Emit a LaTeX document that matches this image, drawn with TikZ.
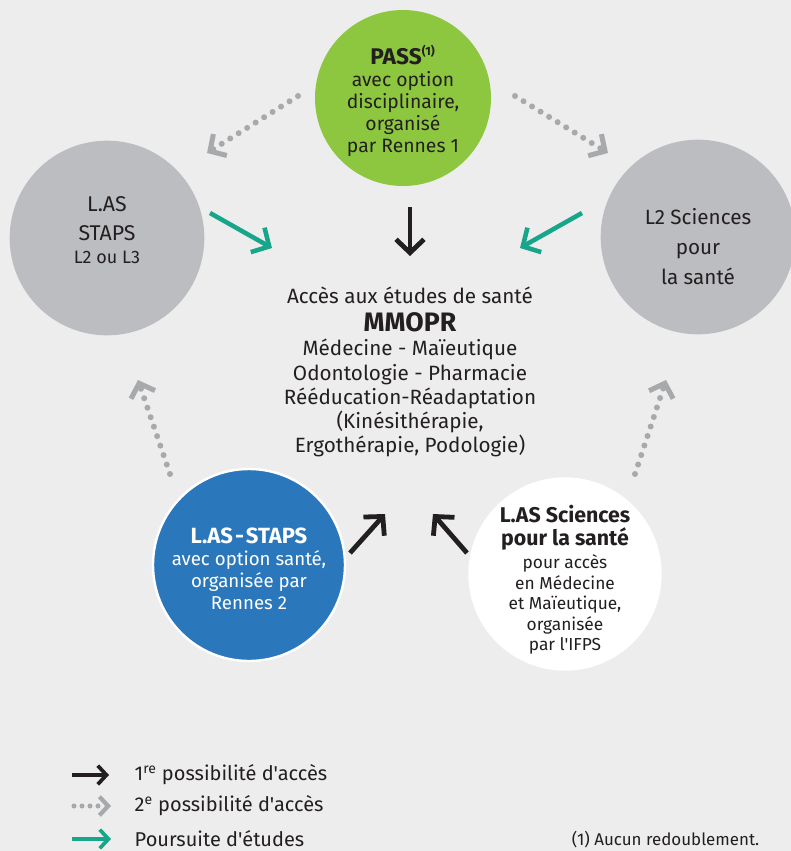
\documentclass[tikz,border=0pt]{standalone}
\usepackage{fontspec}
\setmainfont{Fira Sans}[Ligatures=TeXOff]
\usetikzlibrary{arrows.meta, positioning, calc}
\definecolor{bggray}{HTML}{EDEDED}
\definecolor{passgreen}{HTML}{8DC63F}
\definecolor{lasgray}{HTML}{BCBDC0}
\definecolor{stapsblue}{HTML}{2A77BB}
\definecolor{suitegreen}{HTML}{17A689}
\definecolor{dotgray}{HTML}{A7A9AC}
\definecolor{inkdark}{HTML}{231F20}

\tikzset{
  bubble/.style={circle, inner sep=0pt, minimum size=146pt},
  bubbletext/.style={align=center, inner sep=0pt, text=inkdark},
  firstacc/.style={draw=inkdark, line width=3.6pt, -{Straight Barb[length=10pt,width=21pt]}},
  secondacc/.style={draw=dotgray, line width=4.5pt, line cap=round, dash pattern=on 0pt off 7.5pt,
    -{Straight Barb[length=9pt,width=19pt,line width=3.8pt]}},
  suite/.style={draw=suitegreen, line width=3.4pt, -{Straight Barb[length=10pt,width=21pt]}},
  legtext/.style={anchor=west, text=inkdark, font=\fontsize{15}{17}\selectfont},
}

\begin{document}
\begin{tikzpicture}[x=0.75pt, y=-0.75pt]

% background and page size
\fill[bggray] (0,0) rectangle (791,851);
\useasboundingbox (0,0) rectangle (791,851);

% circles
\node[bubble, fill=passgreen, minimum size=132pt] (pass) at (403,98) {};
\node[bubble, fill=lasgray] (lasstaps) at (107,238) {};
\node[bubble, fill=lasgray] (l2sci) at (698,237) {};
\node[bubble, fill=stapsblue, draw=white, line width=1.8pt, minimum size=144pt] (lasblue) at (249,565) {};
\node[bubble, fill=white, minimum size=145pt] (lassci) at (565,574) {};

% circle texts
\node[bubbletext, font=\fontsize{14.5}{16.5}\selectfont] (passtxt) at (403,101)
  {{\fontsize{17}{19}\selectfont\bfseries PASS\textsuperscript{\fontsize{9}{9}\selectfont(1)}}\\
   avec option\\ disciplinaire,\\ organisé\\ par Rennes 1};
\node[bubbletext, font=\fontsize{16}{22}\selectfont] (lasstapstxt) at (107,230)
  {L.AS\\ STAPS\\[-5pt] {\fontsize{13.5}{15}\selectfont L2 ou L3}};
\node[bubbletext, font=\fontsize{15.5}{22.5}\selectfont] (l2scitxt) at (698,247)
  {L2 Sciences\\ pour\\ la santé};
\node[bubbletext, text=white, font=\fontsize{14}{16.5}\selectfont] (lasbluetxt) at (249,569)
  {{\fontsize{16.5}{19}\selectfont\bfseries L.AS\kern1.5pt-\kern1.5pt STAPS}\\
   avec option santé,\\ organisée par\\ Rennes 2};
\node[bubbletext, font=\fontsize{13}{15.4}\selectfont] (lasscitxt) at (565,580)
  {{\fontsize{16}{17}\selectfont\bfseries L.AS Sciences}\\[1.5pt]
   {\fontsize{16}{17}\selectfont\bfseries pour la santé}\\[2pt]
   pour accès\\ en Médecine\\ et Maïeutique,\\ organisée\\ par l'IFPS};

% centre
\node[align=center, text=inkdark, font=\fontsize{15.5}{18.2}\selectfont] (mmopr) at (410,372)
  {Accès aux études de santé\\[3pt]
   {\fontsize{20}{20}\selectfont\bfseries MMOPR}\\
   Médecine - Maïeutique\\ Odontologie - Pharmacie\\ Rééducation-Réadaptation\\
   (Kinésithérapie,\\ Ergothérapie, Podologie)};

% arrow ends
\coordinate (pd1) at (410,207);   \coordinate (pd2) at (410,256);
\coordinate (bl1) at (350,553);   \coordinate (bl2) at (385,514);
\coordinate (br1) at (467,553);   \coordinate (br2) at (433,514);
\coordinate (gl1) at (210,213);   \coordinate (gl2) at (272,248);
\coordinate (gr1) at (582,213);   \coordinate (gr2) at (520,248);
\coordinate (tl1) at (298,96);    \coordinate (tl2) at (207,153);
\coordinate (tr1) at (515,96);    \coordinate (tr2) at (608,153);
\coordinate (ll1) at (170,474);   \coordinate (ll2) at (138,380);
\coordinate (lr1) at (635,474);   \coordinate (lr2) at (666,380);

% 1re possibilite
\draw[firstacc] (pd1) -- (pd2);
\draw[firstacc] (bl1) -- (bl2);
\draw[firstacc] (br1) -- (br2);

% poursuite d'etudes
\draw[suite] (gl1) -- (gl2);
\draw[suite] (gr1) -- (gr2);

% 2e possibilite
\draw[secondacc] (tl1) -- (tl2);
\draw[secondacc] (tr1) -- (tr2);
\draw[secondacc] (ll1) -- (ll2);
\draw[secondacc] (lr1) -- (lr2);

% legend
\coordinate (k1a) at (72,775);  \coordinate (k1b) at (109,775);
\coordinate (k2a) at (74,806);  \coordinate (k2b) at (111,806);
\coordinate (k3a) at (72,839);  \coordinate (k3b) at (111,839);
\draw[firstacc, line width=2.8pt, -{Straight Barb[length=6.5pt,width=14pt]}] (k1a) -- (k1b);
\draw[secondacc, line width=3.8pt, dash pattern=on 0pt off 6pt, -{Straight Barb[length=6.5pt,width=14pt,line width=3.2pt]}] (k2a) -- (k2b);
\draw[suite, line width=2.8pt, -{Straight Barb[length=6.5pt,width=14pt]}] (k3a) -- (k3b);
\node[legtext] (leg1) at (130,775) {1\textsuperscript{re} possibilité d'accès};
\node[legtext] (leg2) at (130,806) {2\textsuperscript{e} possibilité d'accès};
\node[legtext] (leg3) at (130,839) {Poursuite d'études};
\node[anchor=east, text=inkdark, font=\fontsize{12.7}{14}\selectfont] (note) at (764,840) {(1) Aucun redoublement.};

\end{tikzpicture}
\end{document}
